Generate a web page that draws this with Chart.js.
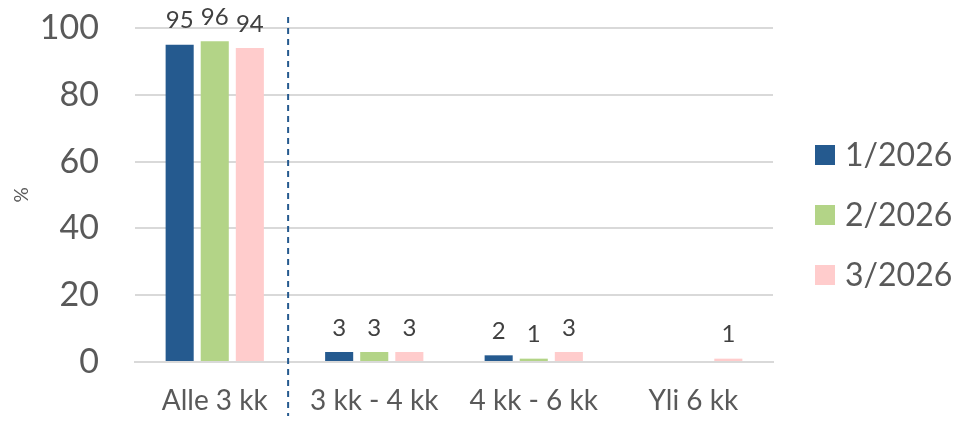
<!DOCTYPE html>
<html><head><meta charset="utf-8">
<script src="https://cdn.jsdelivr.net/npm/chart.js@4"></script>
<style>html,body{margin:0;padding:0;background:#fff}#w{width:960px;height:421px}</style>
</head><body><div id="w"><canvas id="c"></canvas></div>
<script>
const categories = ['Alle 3 kk', '3 kk - 4 kk', '4 kk - 6 kk', 'Yli 6 kk'];
const seriesNames = ['1/2026', '2/2026', '3/2026'];
const s1 = [95, 3, 2, null];
const s2 = [96, 3, 1, null];
const s3 = [94, 3, 3, 1];
const yTicks = [0, 20, 40, 60, 80, 100];
const colors = ['#255A8F', '#B3D487', '#FFCCCC'];
const FONT = 'Lato, "Open Sans", sans-serif';

const labelPlugin = {
  id: 'vals',
  afterDatasetsDraw(chart) {
    const ctx = chart.ctx;
    ctx.save();
    ctx.font = '24px ' + FONT;
    ctx.fillStyle = '#404040';
    ctx.textAlign = 'center';
    ctx.textBaseline = 'bottom';
    chart.data.datasets.forEach((ds, i) => {
      const meta = chart.getDatasetMeta(i);
      meta.data.forEach((bar, j) => {
        const v = ds.data[j];
        if (v === null || v === undefined) return;
        ctx.fillText(String(v), bar.x, bar.y - 12);
      });
    });
    ctx.restore();
  }
};
const sepPlugin = {
  id: 'sep',
  afterDraw(chart) {
    const x = chart.scales.x.getPixelForValue(0.46);
    const ctx = chart.ctx;
    ctx.save();
    ctx.strokeStyle = '#255A8F';
    ctx.lineWidth = 2;
    ctx.setLineDash([6, 5]);
    ctx.beginPath();
    ctx.moveTo(x, 17);
    ctx.lineTo(x, 416);
    ctx.stroke();
    ctx.restore();
  }
};
const legendPlugin = {
  id: 'customLegend',
  afterDraw(chart) {
    const ctx = chart.ctx;
    const a = chart.chartArea;
    const cy = (a.top + a.bottom) / 2 + 20;
    const bx = a.right + 42;
    ctx.save();
    ctx.font = '32px ' + FONT;
    ctx.textAlign = 'left';
    ctx.textBaseline = 'middle';
    chart.data.datasets.forEach((ds, i) => {
      const y = cy + (i - 1) * 60;
      ctx.fillStyle = ds.backgroundColor;
      ctx.fillRect(bx, y - 10, 20, 20);
      ctx.fillStyle = '#595959';
      ctx.fillText(ds.label, bx + 30, y + 1);
    });
    ctx.restore();
  }
};

new Chart(document.getElementById('c'), {
  type: 'bar',
  data: {
    labels: categories,
    datasets: [s1, s2, s3].map((d, i) => ({
      label: seriesNames[i], data: d, backgroundColor: colors[i],
      categoryPercentage: 0.66, barPercentage: 0.8
    }))
  },
  plugins: [labelPlugin, sepPlugin, legendPlugin],
  options: {
    responsive: true, maintainAspectRatio: false, animation: false,
    layout: { padding: { left: 10, top: 28, right: 187, bottom: 0 } },
    plugins: {
      tooltip: { enabled: false },
      legend: { display: false }
    },
    scales: {
      x: {
        grid: { display: false },
        border: { color: '#D9D9D9', width: 2 },
        afterFit: s => { s.height = 59; s.paddingLeft = 0; s.paddingRight = 0; },
        ticks: { font: { size: 28, family: FONT }, color: '#595959', padding: 14 }
      },
      y: {
        min: 0, max: 100,
        afterBuildTicks: s => { s.ticks = yTicks.map(v => ({ value: v })); },
        afterFit: s => { s.width = 125; s.paddingTop = 0; s.paddingBottom = 0; },
        grid: { color: '#D9D9D9', lineWidth: 2, drawTicks: false },
        border: { display: false },
        ticks: { font: { size: 34, family: FONT }, color: '#595959', padding: 36 },
        title: { display: true, text: '%', font: { size: 19, family: FONT }, color: '#595959', padding: 0 }
      }
    }
  }
});
</script></body></html>
